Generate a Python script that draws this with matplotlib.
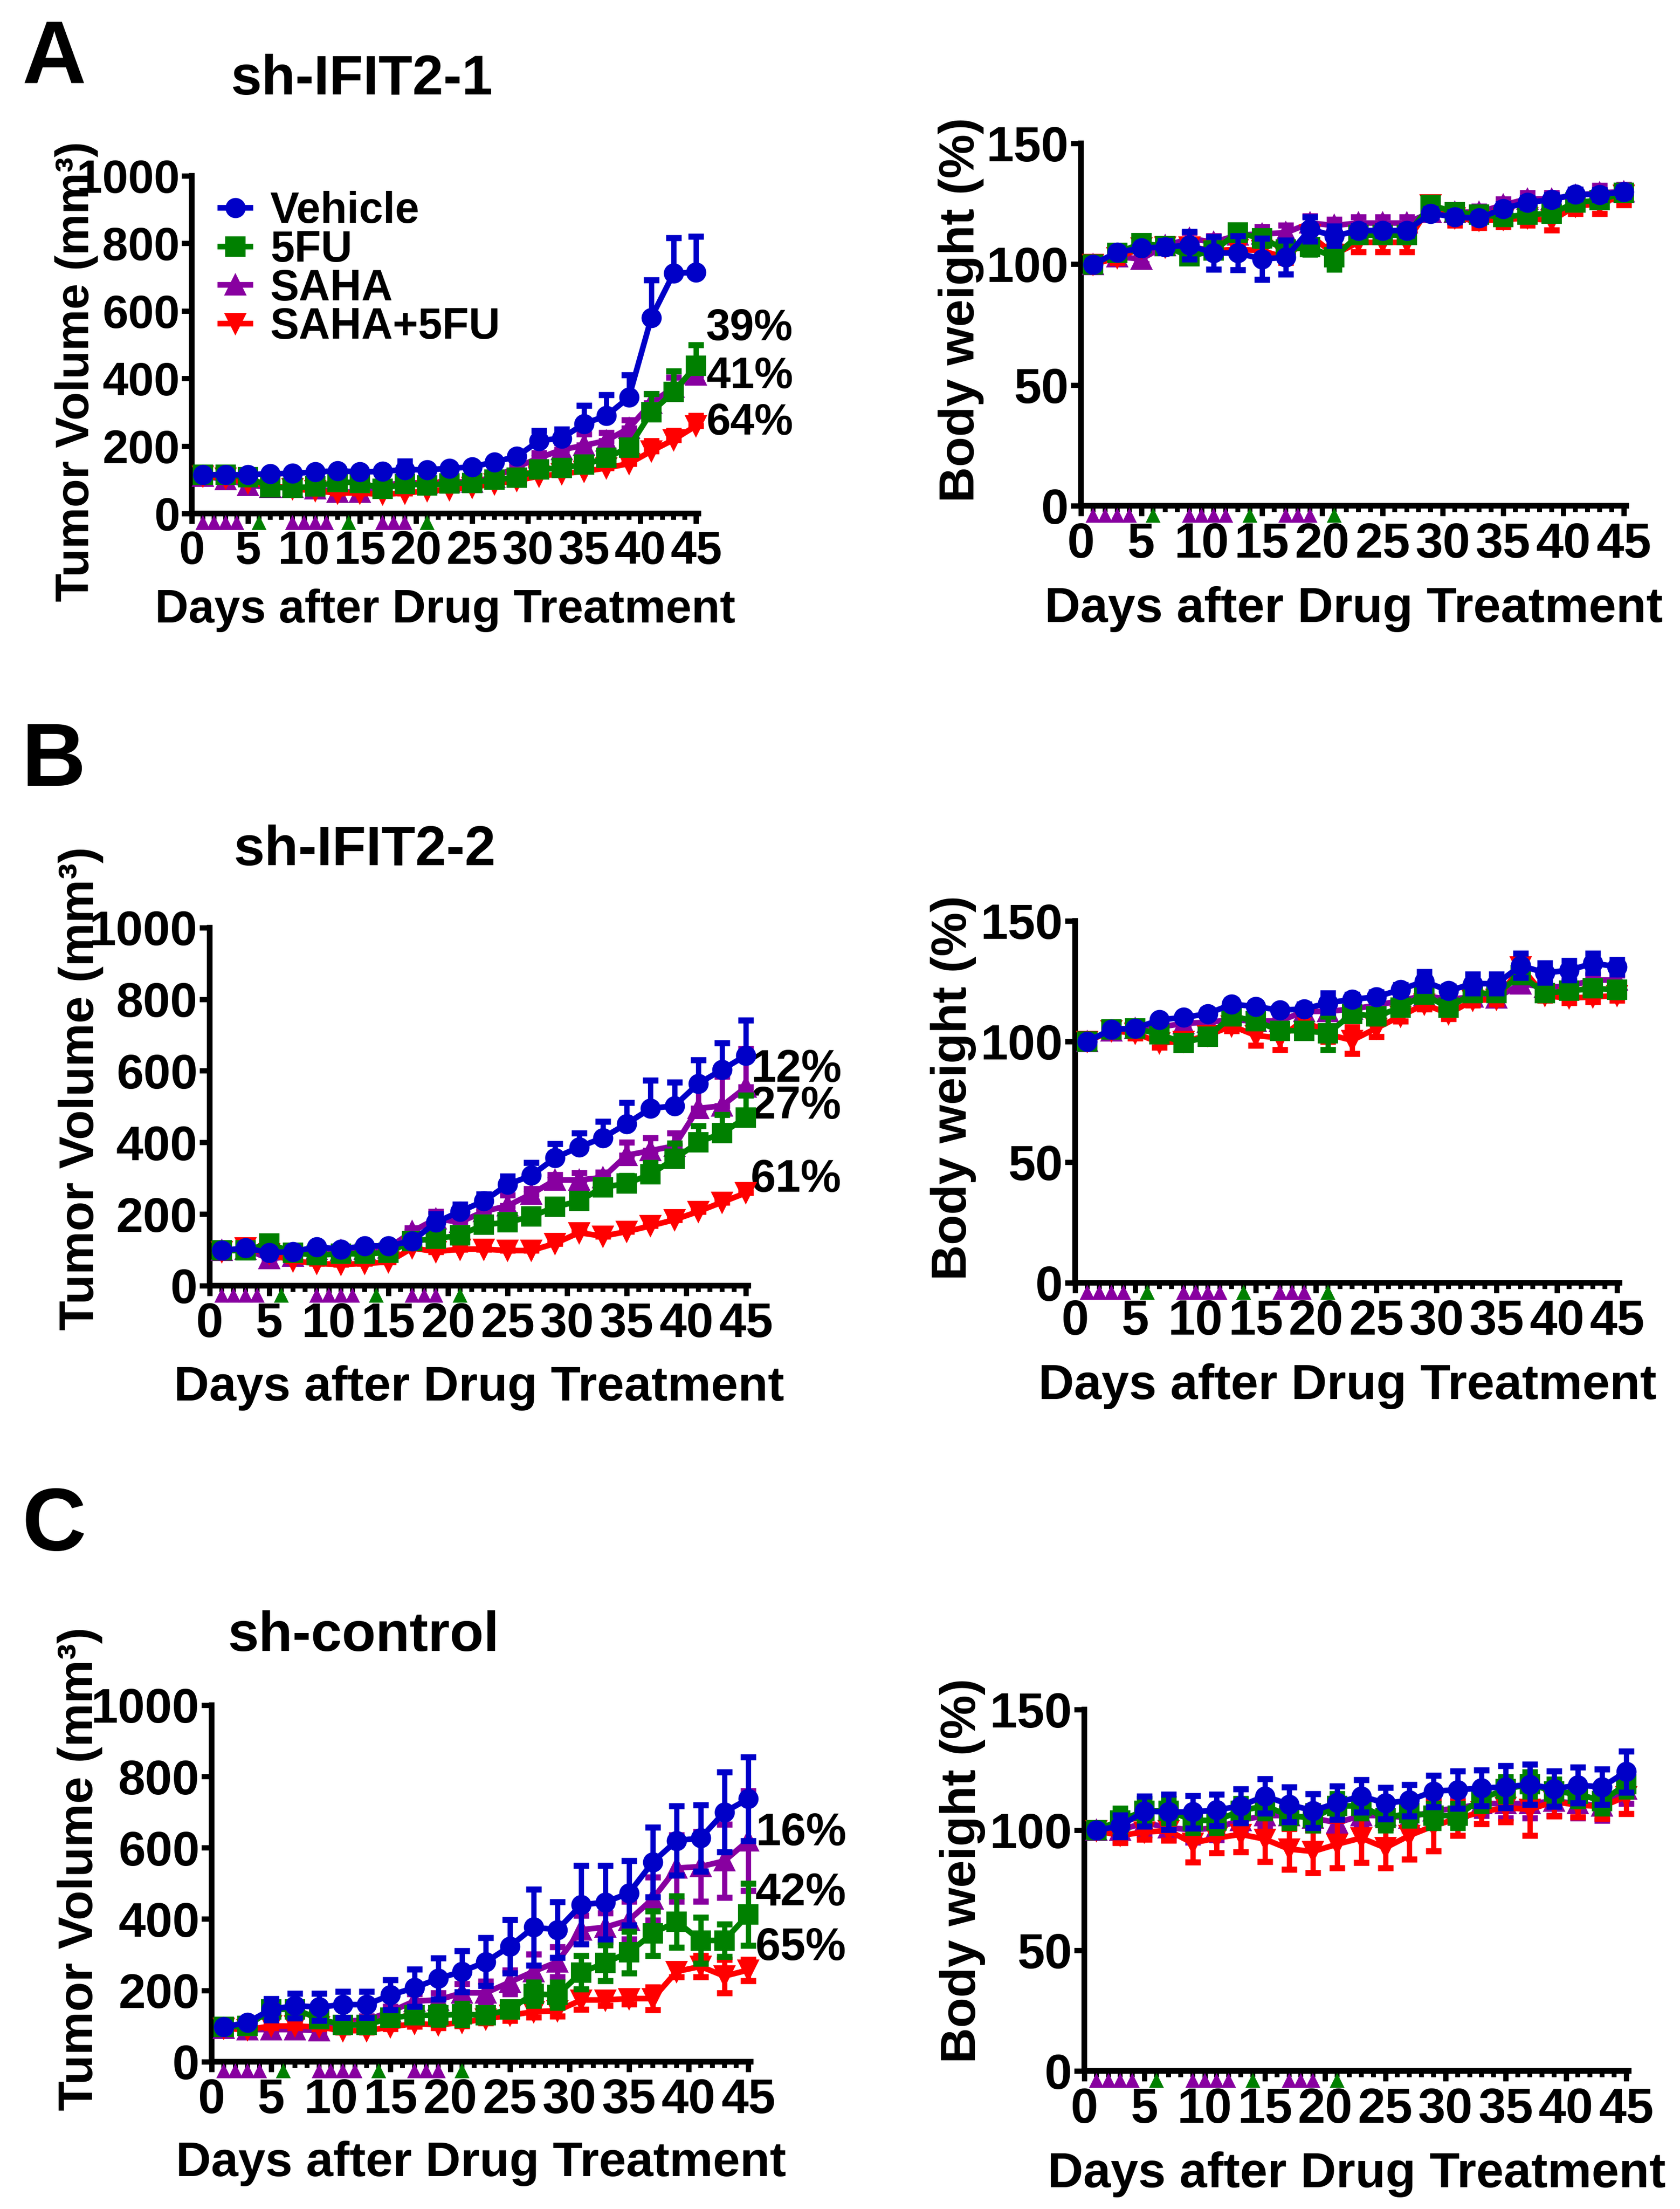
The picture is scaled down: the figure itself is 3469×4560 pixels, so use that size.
import numpy as np
import matplotlib
matplotlib.use("Agg")
import matplotlib.pyplot as plt
from matplotlib.ticker import MultipleLocator

plt.rcParams['font.family'] = ['Liberation Sans', 'DejaVu Sans']
plt.rcParams['font.weight'] = 'bold'

# measurement days (every 2 days) and dosing days
days = list(range(1, 46, 2))
saha_days = [1, 2, 3, 4, 9, 10, 11, 12, 17, 18, 19]
fu_days = [6, 14, 21]

groups = ["Vehicle", "5FU", "SAHA", "SAHA+5FU"]

# --- A : sh-IFIT2-1 ---
veh_a = [115, 115, 115, 118, 119, 123, 127, 123, 125, 130, 130, 134, 138, 153, 169, 216, 223, 266, 290, 344, 580, 712, 714]
veh_a_err = [6, 6, 6, 6, 6, 6, 6, 6, 6, 25, 10, 8, 8, 8, 12, 30, 27, 54, 61, 67, 111, 105, 106]
fu_a = [115, 115, 108, 78, 76, 80, 94, 91, 74, 88, 84, 89, 91, 101, 106, 131, 135, 145, 165, 196, 300, 361, 438]
fu_a_err = [6, 6, 6, 6, 6, 6, 8, 8, 6, 8, 6, 6, 6, 6, 6, 10, 10, 12, 17, 20, 54, 61, 61]
saha_a = [111, 101, 84, 78, 78, 74, 64, 64, 84, 91, 91, 94, 94, 108, 138, 165, 189, 202, 216, 253, 327, 374, 411]
saha_a_err = [6, 6, 6, 6, 6, 6, 6, 6, 6, 6, 6, 6, 6, 6, 15, 15, 20, 34, 24, 24, 27, 30, 20]
combo_a = [111, 105, 91, 84, 74, 67, 61, 61, 57, 61, 67, 71, 78, 88, 98, 111, 118, 125, 135, 148, 185, 219, 260]
combo_a_err = [5, 5, 5, 5, 5, 5, 5, 5, 5, 5, 5, 5, 5, 5, 5, 8, 8, 8, 8, 8, 30, 27, 30]

veh_a_bw = [99.9, 104.9, 106.6, 107.1, 107.8, 104.6, 104.6, 102.1, 102.8, 114.5, 111.6, 113.9, 113.9, 113.9, 121.0, 119.5, 119.0, 123.0, 125.5, 126.7, 129.0, 128.7, 130.0]
veh_a_bw_err = [1.5, 1.5, 1.5, 2.5, 5.7, 6.7, 7.0, 8.5, 7.0, 5.0, 4.0, 2, 2, 2, 2, 2, 2, 2, 2, 2, 2, 2, 2]
fu_a_bw = [99.9, 104.6, 108.6, 107.4, 103.2, 105.6, 113.0, 110.6, 106.0, 107.0, 102.8, 112.0, 112.0, 112.0, 124.5, 121.5, 120.5, 119.5, 120.5, 121.0, 125.5, 126.5, 129.5]
fu_a_bw_err = [2, 2, 2, 2, 2, 2, 3, 3, 3, 3, 5, 2, 2, 2, 2, 2, 2, 2, 2, 2, 2, 2, 2]
saha_a_bw = [99.9, 103.1, 102.1, 107.6, 110.6, 109.1, 112.0, 112.5, 113.0, 117.0, 116.0, 117.0, 117.0, 117.0, 121.5, 121.5, 121.5, 124.5, 127.0, 127.0, 128.5, 129.5, 130.0]
saha_a_bw_err = [1.5, 2, 2, 2, 2.5, 2.5, 3, 3, 3, 3, 2.5, 2.5, 2.5, 2.5, 2.5, 2.5, 2.5, 2.5, 2.5, 2.5, 2.5, 3, 3]
combo_a_bw = [99.9, 102.6, 106.6, 107.1, 107.1, 105.6, 106.1, 105.6, 102.6, 112.0, 104.0, 109.0, 109.0, 109.0, 124.5, 119.0, 118.0, 118.5, 119.0, 118.0, 124.0, 125.0, 128.5]
combo_a_bw_err = [1.5, 2, 2, 2, 2, 2, 2, 2, 2, 3, 4, 4, 4, 4, 3, 3, 3, 3, 3, 4, 3, 4, 4]

# --- B : sh-IFIT2-2 ---
veh_b = [98, 105, 92, 95, 108, 102, 111, 111, 125, 177, 207, 236, 282, 308, 357, 387, 413, 452, 495, 502, 564, 603, 643]
veh_b_err = [5, 5, 5, 5, 5, 5, 5, 5, 8, 23, 20, 20, 23, 36, 39, 39, 46, 59, 79, 66, 66, 75, 98]
fu_b = [98, 98, 118, 92, 85, 89, 89, 92, 125, 131, 141, 170, 177, 193, 220, 236, 275, 285, 311, 354, 400, 426, 469]
fu_b_err = [5, 5, 5, 5, 5, 5, 5, 5, 8, 8, 10, 10, 10, 12, 15, 20, 20, 22, 33, 43, 46, 52, 62]
saha_b = [98, 102, 75, 82, 102, 98, 102, 105, 151, 187, 177, 207, 223, 256, 295, 295, 302, 364, 377, 390, 495, 502, 554]
saha_b_err = [5, 5, 5, 5, 5, 5, 5, 5, 10, 20, 10, 10, 30, 15, 15, 20, 15, 36, 36, 36, 66, 82, 108]
combo_b = [95, 105, 89, 69, 62, 59, 62, 66, 105, 95, 102, 102, 98, 98, 118, 148, 138, 151, 167, 184, 207, 233, 259]
combo_b_err = [5, 5, 5, 5, 5, 5, 5, 5, 5, 5, 5, 5, 5, 5, 5, 8, 8, 8, 10, 12, 15, 15, 18]

veh_b_bw = [100, 105, 105.5, 109, 110, 111.5, 115.5, 114.5, 113, 113.5, 116, 117.5, 118.5, 121.5, 125, 121, 124, 124, 131.5, 128.5, 129.5, 132.5, 131]
veh_b_bw_err = [1, 1.5, 1.5, 1.5, 1.5, 1.5, 1.5, 1.5, 1.5, 2, 4, 2, 2, 2, 4, 2, 4, 4, 5, 4, 4, 4, 3]
fu_b_bw = [100, 105, 105.5, 103, 99.5, 102, 110.5, 108.5, 104.5, 104.5, 103.5, 111.5, 110.5, 114, 119.5, 114, 120, 120, 127.5, 120, 121, 122, 121.5]
fu_b_bw_err = [1.5, 2, 2, 2, 2, 2, 2, 2, 2, 2, 7, 2, 2, 2, 2, 2, 2, 2, 2, 2, 2, 2, 3]
saha_b_bw = [100, 104.5, 105.5, 106, 107.5, 108, 109, 108.5, 108.5, 112.5, 112.5, 113.5, 115, 117, 119, 117.5, 118.5, 118, 124, 122.5, 123, 125.5, 125.5]
saha_b_bw_err = [1, 2, 2, 2, 2, 2, 2, 2, 2, 2, 2, 2, 2, 2, 2, 2, 2, 2, 2, 2, 2, 2, 2]
combo_b_bw = [100, 104.5, 103.5, 99.5, 100, 102.5, 106.5, 102.5, 101.5, 109, 103, 100.5, 105.5, 110.5, 115.5, 111.5, 117, 117.5, 131, 119, 118, 118.5, 119]
combo_b_bw_err = [1.5, 2, 2, 2, 2, 2, 2, 4, 5, 3, 3, 5.5, 3.5, 2, 2, 2, 2, 2, 2, 2, 2, 2, 2]

# --- C : sh-control ---
veh_c = [97, 110, 147, 157, 153, 160, 160, 187, 207, 233, 253, 280, 323, 377, 370, 440, 447, 473, 560, 620, 627, 700, 737]
veh_c_err = [5, 8, 30, 35, 38, 37, 37, 42, 52, 58, 58, 67, 75, 107, 78, 110, 103, 90, 98, 97, 93, 112, 118]
fu_c = [97, 100, 147, 147, 120, 103, 103, 123, 130, 130, 133, 130, 147, 190, 187, 250, 277, 307, 360, 393, 340, 340, 413]
fu_c_err = [5, 8, 10, 10, 15, 12, 12, 15, 15, 25, 30, 15, 15, 32, 35, 47, 50, 58, 63, 72, 65, 45, 87]
saha_c = [93, 90, 90, 90, 87, 113, 117, 140, 170, 173, 193, 193, 223, 253, 280, 370, 377, 397, 457, 543, 547, 563, 620]
saha_c_err = [5, 5, 8, 8, 8, 8, 10, 15, 20, 20, 25, 33, 33, 48, 42, 40, 40, 53, 60, 93, 98, 103, 140]
combo_c = [93, 90, 100, 100, 97, 87, 87, 97, 107, 103, 110, 120, 130, 140, 143, 173, 173, 177, 177, 253, 267, 240, 257]
combo_c_err = [5, 5, 5, 5, 5, 5, 5, 5, 8, 8, 10, 12, 15, 15, 15, 27, 15, 15, 32, 15, 30, 47, 30]

veh_c_bw = [99.9, 101.7, 107.8, 107.5, 107.5, 108.3, 110.0, 114.1, 110.6, 108.0, 111.3, 114.1, 111.1, 112.3, 116.1, 116.7, 117.4, 117.9, 118.9, 117.1, 118.6, 117.9, 124.2]
veh_c_bw_err = [1, 4.5, 6.2, 7.4, 6.7, 6.5, 7, 7.1, 7.3, 7.1, 7, 6.7, 6.6, 6.6, 6.6, 7.8, 7.5, 8.8, 8.4, 7.4, 7.5, 7.4, 8.5]
fu_c_bw = [100, 104, 108, 108, 104, 104, 108, 110, 106, 105, 110, 110, 105, 107, 106, 106, 113, 117, 119, 116, 115, 112, 119]
fu_c_bw_err = [1, 5, 5, 5, 5, 5, 5, 5, 5, 5, 5, 5, 5, 5, 5, 5, 5, 5, 5, 5, 5, 5, 5]
saha_c_bw = [100, 100, 103, 101, 100, 101, 104, 106, 106, 105, 103, 106, 106, 105, 108, 109, 111, 111, 111, 112, 111, 110, 117]
saha_c_bw_err = [1, 5, 5, 5, 5, 5, 5, 5, 5, 5, 5, 5, 5, 5, 5, 5, 5, 6, 6, 6, 6, 6, 6]
combo_c_bw = [99.7, 97.7, 99.2, 99.7, 94.6, 96.7, 98.2, 96.2, 92.1, 91.1, 94.1, 96.7, 92.6, 97.7, 101.7, 104.8, 107.5, 109.3, 108.5, 111.8, 110.3, 109.8, 113.9]
combo_c_bw_err = [1, 3, 3, 4, 7.9, 6.3, 7.3, 9.4, 8.4, 8.9, 9.9, 10.2, 8.4, 9.9, 10.4, 7, 5, 6, 10.7, 6, 5, 5, 7.1]

# inhibition labels at the end of the tumour curves
pct_a = ["39%", "41%", "64%"]
pct_a_y = [548, 405, 268]
pct_b = ["12%", "27%", "61%"]
pct_b_y = [603, 500, 295]
pct_c = ["16%", "42%", "65%"]
pct_c_y = [640, 472, 318]

BLUE = '#0000C8'
GREEN = '#008000'
PURPLE = '#8800A0'
RED = '#FF0000'

styles = {
    "Vehicle": (BLUE, 'o', 9.0),
    "5FU": (GREEN, 's', 9.2),
    "SAHA": (PURPLE, '^', 9.8),
    "SAHA+5FU": (RED, 'v', 9.8),
}
draw_order = ["SAHA", "SAHA+5FU", "5FU", "Vehicle"]


def draw_panel(ax, data, ymax, ystep, ylabel, ylabel_xy, upper_only, fs):
    handles = {}
    for z, name in enumerate(draw_order):
        vals, errs = data[name]
        color, marker, ms = styles[name]
        errs = np.array(errs)
        yerr = [np.zeros_like(errs), errs] if upper_only else errs
        ax.errorbar(days, vals, yerr=yerr, fmt='none', ecolor=color,
                    elinewidth=2.6, capsize=3.8, capthick=3.0,
                    zorder=3 + z, clip_on=False)
        line, = ax.plot(days, vals, color=color, marker=marker, ms=ms,
                        lw=2.8, zorder=3.5 + z, clip_on=False, label=name)
        handles[name] = line

    # dosing marks just below the x axis
    ax.plot(saha_days, [-0.028] * len(saha_days), '^', color=PURPLE, ms=5.6,
            transform=ax.get_xaxis_transform(), clip_on=False, zorder=10)
    ax.plot(fu_days, [-0.028] * len(fu_days), '^', color=GREEN, ms=5.6,
            transform=ax.get_xaxis_transform(), clip_on=False, zorder=10)

    ax.set_xlim(0, 45.2)
    ax.set_ylim(0, ymax)
    ax.xaxis.set_major_locator(MultipleLocator(5))
    ax.xaxis.set_minor_locator(MultipleLocator(1))
    ax.yaxis.set_major_locator(MultipleLocator(ystep))
    for s in ['top', 'right']:
        ax.spines[s].set_visible(False)
    for s in ['left', 'bottom']:
        ax.spines[s].set_linewidth(2.8)
    ax.tick_params(axis='both', which='major', direction='out', length=5,
                   width=2.6, labelsize=fs)
    ax.tick_params(axis='x', which='major', pad=3)
    ax.tick_params(axis='y', which='major', pad=1)
    ax.tick_params(axis='x', which='minor', direction='out', length=3.2, width=2.4)
    for lab in ax.get_xticklabels() + ax.get_yticklabels():
        lab.set_fontweight('bold')

    ax.set_xlabel("Days after Drug Treatment", fontsize=fs, fontweight='bold')
    ax.xaxis.set_label_coords(0.5, -0.222)
    ax.set_ylabel(ylabel, fontsize=fs, fontweight='bold')
    ax.yaxis.set_label_coords(*ylabel_xy)
    return handles


def add_pct(ax, labels, ys, x, fs):
    for t, y in zip(labels, ys):
        ax.text(x, y, t, fontsize=fs, fontweight='bold', ha='left', va='center')


fig = plt.figure(figsize=(3469 / 300, 4560 / 300), dpi=300)

ax_a1 = fig.add_axes([0.1142, 0.7675, 0.3015, 0.1529])
ax_a2 = fig.add_axes([0.6434, 0.7711, 0.3246, 0.1640])
ax_b1 = fig.add_axes([0.1248, 0.4180, 0.3206, 0.1621])
ax_b2 = fig.add_axes([0.6400, 0.4193, 0.3240, 0.1638])
ax_c1 = fig.add_axes([0.1260, 0.0667, 0.3208, 0.1614])
ax_c2 = fig.add_axes([0.6454, 0.0625, 0.3240, 0.1636])

tv = "Tumor Volume (mm³)"
bw = "Body weight (%)"

h = draw_panel(ax_a1, {"Vehicle": (veh_a, veh_a_err), "5FU": (fu_a, fu_a_err),
                       "SAHA": (saha_a, saha_a_err), "SAHA+5FU": (combo_a, combo_a_err)},
               1000, 200, tv, (-0.185, 0.42), True, 23)
draw_panel(ax_a2, {"Vehicle": (veh_a_bw, veh_a_bw_err), "5FU": (fu_a_bw, fu_a_bw_err),
                   "SAHA": (saha_a_bw, saha_a_bw_err), "SAHA+5FU": (combo_a_bw, combo_a_bw_err)},
           150, 50, bw, (-0.178, 0.54), False, 24.5)
draw_panel(ax_b1, {"Vehicle": (veh_b, veh_b_err), "5FU": (fu_b, fu_b_err),
                   "SAHA": (saha_b, saha_b_err), "SAHA+5FU": (combo_b, combo_b_err)},
           1000, 200, tv, (-0.197, 0.551), True, 24.2)
draw_panel(ax_b2, {"Vehicle": (veh_b_bw, veh_b_bw_err), "5FU": (fu_b_bw, fu_b_bw_err),
                   "SAHA": (saha_b_bw, saha_b_bw_err), "SAHA+5FU": (combo_b_bw, combo_b_bw_err)},
           150, 50, bw, (-0.182, 0.539), False, 24.5)
draw_panel(ax_c1, {"Vehicle": (veh_c, veh_c_err), "5FU": (fu_c, fu_c_err),
                   "SAHA": (saha_c, saha_c_err), "SAHA+5FU": (combo_c, combo_c_err)},
           1000, 200, tv, (-0.202, 0.54), False, 24.2)
draw_panel(ax_c2, {"Vehicle": (veh_c_bw, veh_c_bw_err), "5FU": (fu_c_bw, fu_c_bw_err),
                   "SAHA": (saha_c_bw, saha_c_bw_err), "SAHA+5FU": (combo_c_bw, combo_c_bw_err)},
           150, 50, bw, (-0.181, 0.554), False, 24.5)

add_pct(ax_a1, pct_a, pct_a_y, 45.9, 21.5)
add_pct(ax_b1, pct_b, pct_b_y, 45.4, 22.5)
add_pct(ax_c1, pct_c, pct_c_y, 45.6, 22.5)

# legend only in the first panel
ax_a1.legend([h[g] for g in groups], groups, loc='upper left',
             bbox_to_anchor=(0.056, 0.955), frameon=False,
             handlelength=0.7, handletextpad=0.45, labelspacing=-0.06,
             borderpad=0, borderaxespad=0, numpoints=1,
             prop={'weight': 'bold', 'size': 21.5})

# panel letters and titles
fig.text(0.013, 0.9627, "A", fontsize=44, fontweight='bold', va='baseline')
fig.text(0.013, 0.6443, "B", fontsize=44, fontweight='bold', va='baseline')
fig.text(0.013, 0.2982, "C", fontsize=44, fontweight='bold', va='baseline')
fig.text(747 / 3469, 0.9572, "sh-IFIT2-1", fontsize=27.5, fontweight='bold', ha='center', va='baseline')
fig.text(753 / 3469, 0.6083, "sh-IFIT2-2", fontsize=27.5, fontweight='bold', ha='center', va='baseline')
fig.text(750 / 3469, 0.2526, "sh-control", fontsize=27.5, fontweight='bold', ha='center', va='baseline')

fig.savefig("out.png", dpi=300)
